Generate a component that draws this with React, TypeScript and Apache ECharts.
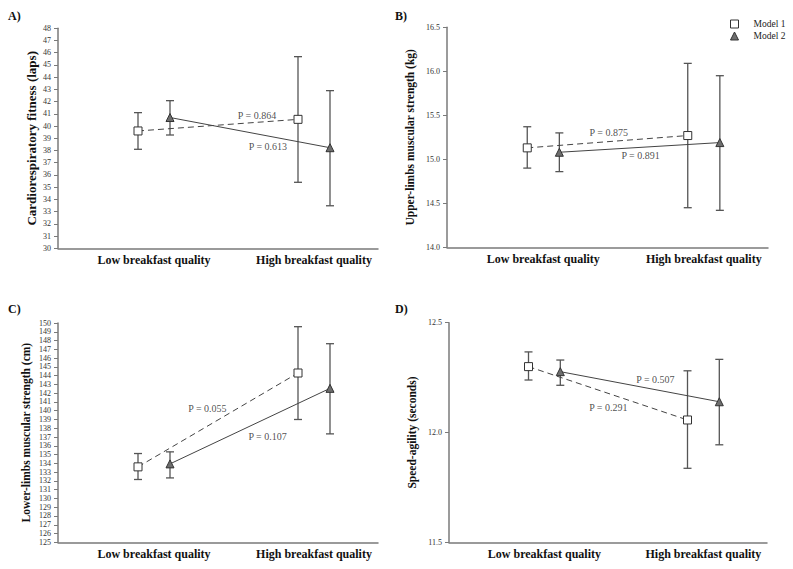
import React, { useEffect, useRef } from "react";
import * as echarts from "echarts";

// Categories and x positions (value axis 0..10)
const CATEGORIES = ["Low breakfast quality", "High breakfast quality"];
const CATEGORY_TICKS = [3, 8];
const M1_X = [2.5, 7.5];
const M2_X = [3.5, 8.5];
const MODELS = ["Model 1", "Model 2"];

// Panel A: Cardiorespiratory fitness (laps)
const A_M1_MEAN = [39.6, 40.55];
const A_M1_LO = [38.1, 35.4];
const A_M1_HI = [41.1, 45.68];
const A_M2_MEAN = [40.7, 38.23];
const A_M2_LO = [39.27, 33.48];
const A_M2_HI = [42.08, 42.9];
const A_P = ["P = 0.864", "P = 0.613"];

// Panel B: Upper-limbs muscular strength (kg)
const B_M1_MEAN = [15.13, 15.27];
const B_M1_LO = [14.9, 14.45];
const B_M1_HI = [15.37, 16.09];
const B_M2_MEAN = [15.08, 15.19];
const B_M2_LO = [14.86, 14.42];
const B_M2_HI = [15.3, 15.95];
const B_P = ["P = 0.875", "P = 0.891"];

// Panel C: Lower-limbs muscular strength (cm)
const C_M1_MEAN = [133.6, 144.3];
const C_M1_LO = [132.16, 139.0];
const C_M1_HI = [135.12, 149.58];
const C_M2_MEAN = [133.94, 142.55];
const C_M2_LO = [132.34, 137.36];
const C_M2_HI = [135.31, 147.64];
const C_P = ["P = 0.055", "P = 0.107"];

// Panel D: Speed-agility (seconds)
const D_M1_MEAN = [12.3, 12.057];
const D_M1_LO = [12.239, 11.837];
const D_M1_HI = [12.367, 12.281];
const D_M2_MEAN = [12.277, 12.14];
const D_M2_LO = [12.215, 11.944];
const D_M2_HI = [12.33, 12.333];
const D_P = ["P = 0.291", "P = 0.507"];

// Annotation anchors (data coordinates) for the P labels: [x, y] for Model 1 then Model 2
const A_P_AT = [[6.22, 40.9], [6.56, 38.37]];
const B_P_AT = [[5.04, 15.31], [6.03, 15.04]];
const C_P_AT = [[4.67, 140.26], [6.55, 137.02]];
const D_P_AT = [[5.01, 12.113], [6.49, 12.242]];

const PANELS = [
  { tag: "A)", title: "Cardiorespiratory fitness (laps)", titleSize: 13, min: 30, max: 48, interval: 1, digits: 0,
    m1: [A_M1_MEAN, A_M1_LO, A_M1_HI], m2: [A_M2_MEAN, A_M2_LO, A_M2_HI], p: A_P, pAt: A_P_AT },
  { tag: "B)", title: "Upper-limbs muscular strength (kg)", titleSize: 11.5, min: 14, max: 16.5, interval: 0.5, digits: 1,
    m1: [B_M1_MEAN, B_M1_LO, B_M1_HI], m2: [B_M2_MEAN, B_M2_LO, B_M2_HI], p: B_P, pAt: B_P_AT },
  { tag: "C)", title: "Lower-limbs muscular strength (cm)", titleSize: 11.5, min: 125, max: 150, interval: 1, digits: 0,
    m1: [C_M1_MEAN, C_M1_LO, C_M1_HI], m2: [C_M2_MEAN, C_M2_LO, C_M2_HI], p: C_P, pAt: C_P_AT },
  { tag: "D)", title: "Speed-agility (seconds)", titleSize: 11.5, min: 11.5, max: 12.5, interval: 0.5, digits: 1,
    m1: [D_M1_MEAN, D_M1_LO, D_M1_HI], m2: [D_M2_MEAN, D_M2_LO, D_M2_HI], p: D_P, pAt: D_P_AT },
];

const GRIDS = [
  { left: 58, top: 28.3, width: 320, height: 220 },
  { left: 447, top: 27.3, width: 321, height: 220 },
  { left: 58, top: 323, width: 320, height: 219.3 },
  { left: 449, top: 322.7, width: 318, height: 219.6 },
];
const NAME_GAPS = [20, 31, 26, 31];
const TAG_POS = [[8, 17], [395, 17], [8, 310], [395, 310]];

const SERIF = "'Liberation Serif', 'Times New Roman', serif";
const LINE_COLOR = "#444";
const BAR_COLOR = "#555";

function errorBarRender(params: any, api: any) {
  const x = api.value(0);
  const lo = api.coord([x, api.value(1)]);
  const hi = api.coord([x, api.value(2)]);
  const w = 4;
  const style = { stroke: BAR_COLOR, lineWidth: 1.3, fill: "none" };
  return {
    type: "group",
    children: [
      { type: "line", shape: { x1: lo[0], y1: lo[1], x2: hi[0], y2: hi[1] }, style },
      { type: "line", shape: { x1: lo[0] - w, y1: lo[1], x2: lo[0] + w, y2: lo[1] }, style },
      { type: "line", shape: { x1: hi[0] - w, y1: hi[1], x2: hi[0] + w, y2: hi[1] }, style },
    ],
  };
}

function buildOption() {
  const grid = GRIDS.map((g) => ({ ...g, containLabel: false }));
  const xAxis = PANELS.map((_, i) => ({
    type: "value",
    gridIndex: i,
    min: 0,
    max: 10,
    interval: 1,
    splitLine: { show: false },
    axisTick: { show: false },
    axisLine: { show: true, lineStyle: { color: "#7a7a7a", width: 1.5 } },
    axisLabel: {
      margin: 6,
      fontFamily: SERIF,
      fontSize: 12,
      fontWeight: "bold",
      color: "#111",
      formatter: (v: number) => {
        const k = CATEGORY_TICKS.indexOf(Math.round(v * 100) / 100);
        return k >= 0 ? CATEGORIES[k] : "";
      },
    },
  }));
  const yAxis = PANELS.map((p, i) => ({
    type: "value",
    gridIndex: i,
    min: p.min,
    max: p.max,
    interval: p.interval,
    name: p.title,
    nameLocation: "middle",
    nameGap: NAME_GAPS[i],
    nameRotate: 90,
    nameTextStyle: { fontFamily: SERIF, fontSize: p.titleSize, fontWeight: "bold", color: "#111" },
    splitLine: { show: false },
    axisLine: { show: true, lineStyle: { color: "#7a7a7a", width: 1.5 } },
    axisTick: { show: true, inside: false, length: 4, lineStyle: { color: "#7a7a7a", width: 1 } },
    axisLabel: {
      margin: 7,
      fontFamily: SERIF,
      fontSize: 8,
      color: "#333",
      formatter: (v: number) => v.toFixed(p.digits),
    },
  }));

  const series: any[] = [];
  PANELS.forEach((p, i) => {
    const [m1Mean, m1Lo, m1Hi] = p.m1;
    const [m2Mean, m2Lo, m2Hi] = p.m2;
    series.push({
      type: "custom",
      xAxisIndex: i,
      yAxisIndex: i,
      renderItem: errorBarRender,
      encode: { x: 0, y: [1, 2] },
      data: M1_X.map((x, k) => [x, m1Lo[k], m1Hi[k]]),
      z: 1,
      silent: true,
    });
    series.push({
      type: "custom",
      xAxisIndex: i,
      yAxisIndex: i,
      renderItem: errorBarRender,
      encode: { x: 0, y: [1, 2] },
      data: M2_X.map((x, k) => [x, m2Lo[k], m2Hi[k]]),
      z: 1,
      silent: true,
    });
    series.push({
      name: MODELS[0],
      type: "line",
      xAxisIndex: i,
      yAxisIndex: i,
      data: M1_X.map((x, k) => [x, m1Mean[k]]),
      symbol: "rect",
      symbolSize: 8,
      lineStyle: { color: LINE_COLOR, width: 1, type: [6, 4] },
      itemStyle: { color: "#ffffff", borderColor: "#333", borderWidth: 1 },
      z: 3,
    });
    series.push({
      name: MODELS[1],
      type: "line",
      xAxisIndex: i,
      yAxisIndex: i,
      data: M2_X.map((x, k) => [x, m2Mean[k]]),
      symbol: "triangle",
      symbolSize: 8,
      lineStyle: { color: LINE_COLOR, width: 1, type: "solid" },
      itemStyle: { color: "#6e6e6e", borderColor: "#333", borderWidth: 1 },
      z: 3,
    });
    series.push({
      type: "scatter",
      xAxisIndex: i,
      yAxisIndex: i,
      symbolSize: 1,
      itemStyle: { color: "rgba(0,0,0,0)" },
      silent: true,
      z: 4,
      data: p.pAt.map((at, k) => ({ name: p.p[k], value: at })),
      label: {
        show: true,
        position: "inside",
        formatter: (d: any) => d.name,
        fontFamily: SERIF,
        fontSize: 10,
        color: "#222",
      },
    });
  });

  const graphic = PANELS.map((p, i) => ({
    type: "text",
    left: TAG_POS[i][0],
    top: TAG_POS[i][1] - 7,
    style: { text: p.tag, fontFamily: SERIF, fontSize: 12, fontWeight: "bold", fill: "#111" },
  }));

  return {
    animation: false,
    backgroundColor: "#ffffff",
    grid,
    xAxis,
    yAxis,
    series,
    graphic,
    legend: {
      orient: "vertical",
      left: 725,
      top: 14,
      itemWidth: 8,
      itemHeight: 8,
      itemGap: 2,
      selectedMode: false,
      textStyle: { fontFamily: SERIF, fontSize: 9.5, color: "#222", padding: [0, 0, 0, 10] },
      data: [
        { name: MODELS[0], icon: "rect", itemStyle: { color: "#ffffff", borderColor: "#333", borderWidth: 1 } },
        { name: MODELS[1], icon: "triangle", itemStyle: { color: "#6e6e6e", borderColor: "#333", borderWidth: 1 } },
      ],
    },
  };
}

export default function App() {
  const ref = useRef<HTMLDivElement>(null);
  useEffect(() => {
    if (!ref.current) return;
    const chart = echarts.init(ref.current, undefined, { renderer: "svg" });
    chart.setOption(buildOption() as any);
    return () => chart.dispose();
  }, []);
  return (
    <div
      ref={ref}
      style={{ position: "fixed", left: 0, top: 0, width: 793, height: 569, background: "#fff" }}
    />
  );
}
